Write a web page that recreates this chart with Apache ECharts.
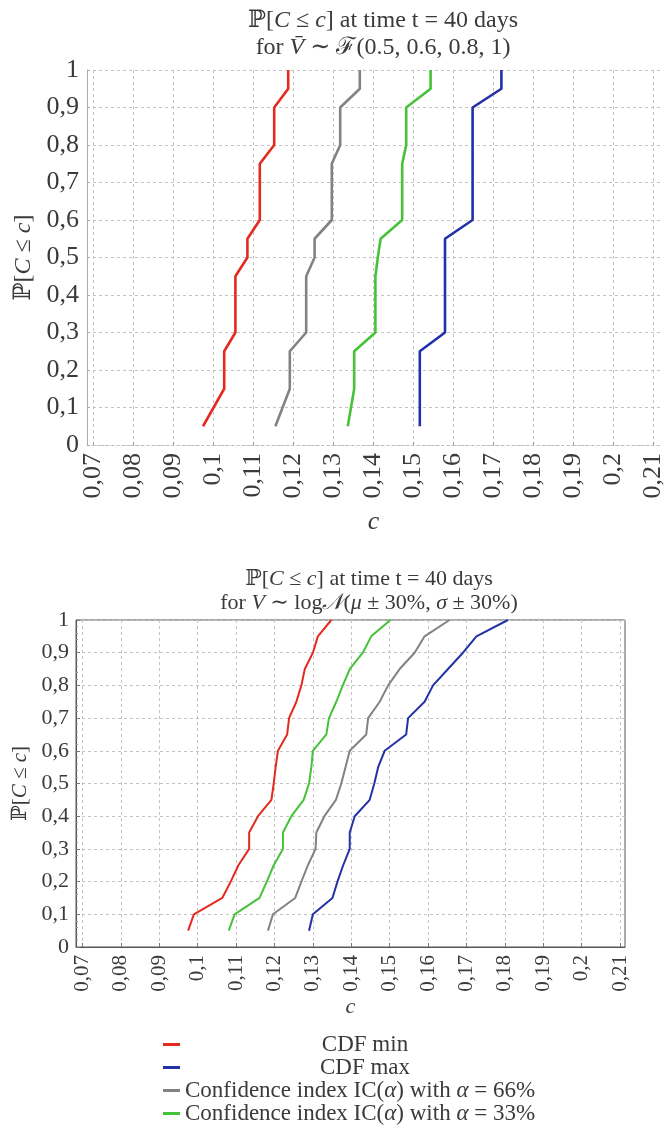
<!DOCTYPE html>
<html>
<head>
<meta charset="utf-8">
<script src="https://cdn.jsdelivr.net/npm/echarts@6/dist/echarts.min.js"></script>
<style>
  html, body { margin: 0; padding: 0; background: #ffffff; }
  #chart { width: 666px; height: 1130px; }
</style>
</head>
<body>
<div id="chart"></div>
<script>
// Tick labels (shared by both panels)
const cTicks = [0.07, 0.08, 0.09, 0.1, 0.11, 0.12, 0.13, 0.14, 0.15, 0.16, 0.17, 0.18, 0.19, 0.2, 0.21];
const pTicks = [0, 0.1, 0.2, 0.3, 0.4, 0.5, 0.6, 0.7, 0.8, 0.9, 1];

// Series names
const seriesNames = ['CDF min', 'CDF max',
  'Confidence index IC(α) with α = 66%', 'Confidence index IC(α) with α = 33%'];

// Upper panel: V ~ F(0.5, 0.6, 0.8, 1)
const topProb  = [0.05, 0.15, 0.25, 0.3, 0.45, 0.5, 0.55, 0.6, 0.75, 0.8, 0.9, 0.95, 1];
const topMin   = [0.0975, 0.1028, 0.1028, 0.1056, 0.1056, 0.1086, 0.1086, 0.1117, 0.1117, 0.1153, 0.1153, 0.1188, 0.1188];
const topMax   = [0.1517, 0.1517, 0.1517, 0.1580, 0.1580, 0.1580, 0.1580, 0.1649, 0.1649, 0.1649, 0.1649, 0.1721, 0.1721];
const topIC66  = [0.1156, 0.1192, 0.1192, 0.1233, 0.1233, 0.1254, 0.1254, 0.1297, 0.1297, 0.1318, 0.1318, 0.1367, 0.1367];
const topIC33  = [0.1337, 0.1353, 0.1353, 0.1406, 0.1406, 0.1412, 0.1419, 0.1473, 0.1473, 0.1483, 0.1483, 0.1544, 0.1544];

// Lower panel: V ~ logN(mu ± 30%, sigma ± 30%)
const botProb  = [0.05, 0.1, 0.15, 0.2, 0.25, 0.3, 0.35, 0.4, 0.45, 0.5, 0.55, 0.6, 0.65, 0.7, 0.75, 0.8, 0.85, 0.9, 0.95, 1];
const botMin   = [0.0975, 0.0990, 0.1064, 0.1086, 0.1106, 0.1134, 0.1134, 0.1157, 0.1192, 0.1198, 0.1203, 0.1209, 0.1233, 0.1238, 0.1257, 0.1270, 0.1279, 0.1300, 0.1313, 0.1348];
const botMax   = [0.1290, 0.1300, 0.1351, 0.1364, 0.1379, 0.1396, 0.1396, 0.1409, 0.1448, 0.1460, 0.1470, 0.1487, 0.1543, 0.1548, 0.1591, 0.1613, 0.1652, 0.1691, 0.1726, 0.1808];
const botIC66  = [0.1183, 0.1196, 0.1254, 0.1270, 0.1287, 0.1307, 0.1309, 0.1330, 0.1360, 0.1374, 0.1385, 0.1396, 0.1439, 0.1444, 0.1474, 0.1496, 0.1526, 0.1565, 0.1591, 0.1656];
const botIC33  = [0.1081, 0.1096, 0.1161, 0.1180, 0.1198, 0.1222, 0.1222, 0.1244, 0.1276, 0.1290, 0.1296, 0.1300, 0.1335, 0.1342, 0.1361, 0.1378, 0.1396, 0.1430, 0.1452, 0.1502];

const colors = ['#e42a1f', '#2232a6', '#828282', '#45c238'];
const SERIF = '"Liberation Serif", "DejaVu Serif", serif';
const INK = '#3a3a3a';

const pair = (cs, ps) => cs.map((c, i) => [c, ps[i]]);
const comma = v => String(v).replace('.', ',');

function mathRich(size) {
  return {
    r: { fontFamily: SERIF, fontSize: size, color: INK, fontWeight: 'normal' },
    i: { fontFamily: SERIF, fontSize: size, color: INK, fontWeight: 'normal', fontStyle: 'italic' }
  };
}

function makeSeries(grid, cols, width) {
  return cols.map((vals, k) => ({
    name: seriesNames[k],
    type: 'line',
    xAxisIndex: grid,
    yAxisIndex: grid,
    data: pair(vals, grid === 0 ? topProb : botProb),
    showSymbol: false,
    symbol: 'none',
    lineStyle: { color: colors[k], width: width },
    itemStyle: { color: colors[k] },
    z: 3
  }));
}

const gridLine = { show: true, lineStyle: { color: '#c4c4c4', type: [3, 3], width: 1 } };

const option = {
  animation: false,
  backgroundColor: '#ffffff',
  title: [
    {
      text: '{r|ℙ[}{i|C}{r| ≤ }{i|c}{r|] at time t = 40 days}\n{r|for }{i|V̄}{r| ∼ ℱ(0.5, 0.6, 0.8, 1)}',
      left: 378, top: 2, textAlign: 'center',
      textStyle: { fontWeight: 'normal', rich: mathRich(24), lineHeight: 27 }
    },
    {
      text: '{r|ℙ[}{i|C}{r| ≤ }{i|c}{r|] at time t = 40 days}\n{r|for }{i|V}{r| ∼ log}{i|𝒩}{r|(}{i|μ}{r| ± 30%, }{i|σ}{r| ± 30%)}',
      left: 364, top: 562, textAlign: 'center',
      textStyle: { fontWeight: 'normal', rich: mathRich(22), lineHeight: 24 }
    }
  ],
  legend: {
    orient: 'vertical',
    left: 158, top: 1028, height: 200,
    itemWidth: 17, itemHeight: 3, itemGap: 0,
    icon: 'rect',
    data: seriesNames,
    formatter: name => {
      if (name.indexOf('CDF') === 0) return '{c|' + name + '}';
      const tail = name.slice(name.length - 3);
      return '{t|Confidence index IC(}{ti|α}{t|) with }{ti|α}{t| = ' + tail + '}';
    },
    textStyle: {
      rich: {
        c: { fontFamily: SERIF, fontSize: 23, color: INK, width: 360, align: 'center', lineHeight: 22 },
        t: { fontFamily: SERIF, fontSize: 23, color: INK, lineHeight: 22 },
        ti: { fontFamily: SERIF, fontSize: 23, color: INK, fontStyle: 'italic', lineHeight: 22 }
      }
    }
  },
  grid: [
    { left: 87, top: 70, width: 576, height: 375 },
    { left: 76, top: 620, width: 549, height: 327, show: true, borderColor: '#555', borderWidth: 1 }
  ],
  xAxis: [
    {
      gridIndex: 0, type: 'value', min: 0.0685, max: 0.2118,
      name: 'c', nameLocation: 'middle', nameGap: 64,
      nameTextStyle: { fontFamily: SERIF, fontSize: 26, fontStyle: 'italic', color: INK },
      axisLine: { show: true, onZero: false, lineStyle: { color: '#bdbdbd', type: [2, 3] } },
      axisTick: { show: true, inside: true, length: 3, customValues: cTicks, lineStyle: { color: '#999' } },
      axisLabel: { customValues: cTicks, rotate: 90, margin: 8, formatter: comma,
        fontFamily: SERIF, fontSize: 26, color: INK },
      splitLine: gridLine
    },
    {
      gridIndex: 1, type: 'value', min: 0.0683, max: 0.2113,
      name: 'c', nameLocation: 'middle', nameGap: 49,
      nameTextStyle: { fontFamily: SERIF, fontSize: 22, fontStyle: 'italic', color: INK },
      axisLine: { show: true, onZero: false, lineStyle: { color: '#555' } },
      axisTick: { show: true, inside: true, length: 4, customValues: cTicks, lineStyle: { color: '#777' } },
      axisLabel: { customValues: cTicks, rotate: 90, margin: 8, formatter: comma,
        fontFamily: SERIF, fontSize: 21, color: INK },
      splitLine: gridLine
    }
  ],
  yAxis: [
    {
      gridIndex: 0, type: 'value', min: 0, max: 1, interval: 0.1,
      name: '{r|ℙ[}{i|C}{r| ≤ }{i|c}{r|]}', nameLocation: 'middle', nameGap: 40,
      nameTextStyle: { rich: mathRich(24) },
      axisLine: { show: true, lineStyle: { color: '#aaaaaa' } },
      axisTick: { show: true, inside: true, length: 3, lineStyle: { color: '#aaa' } },
      axisLabel: { formatter: comma, margin: 8, fontFamily: SERIF, fontSize: 26, color: INK },
      splitLine: gridLine
    },
    {
      gridIndex: 1, type: 'value', min: 0, max: 1, interval: 0.1,
      name: '{r|ℙ[}{i|C}{r| ≤ }{i|c}{r|]}', nameLocation: 'middle', nameGap: 38,
      nameTextStyle: { rich: mathRich(21) },
      axisLine: { show: true, lineStyle: { color: '#555' } },
      axisTick: { show: true, inside: true, length: 4, lineStyle: { color: '#777' } },
      minorTick: { show: true, splitNumber: 5, length: 2, lineStyle: { color: '#999' } },
      axisLabel: { formatter: comma, margin: 7, fontFamily: SERIF, fontSize: 22, color: INK },
      splitLine: gridLine
    }
  ],
  series: [
    ...makeSeries(0, [topMin, topMax, topIC66, topIC33], 2.6),
    ...makeSeries(1, [botMin, botMax, botIC66, botIC33], 2)
  ]
};

const chart = echarts.init(document.getElementById('chart'), null, { renderer: 'canvas' });
chart.setOption(option);
</script>
</body>
</html>
